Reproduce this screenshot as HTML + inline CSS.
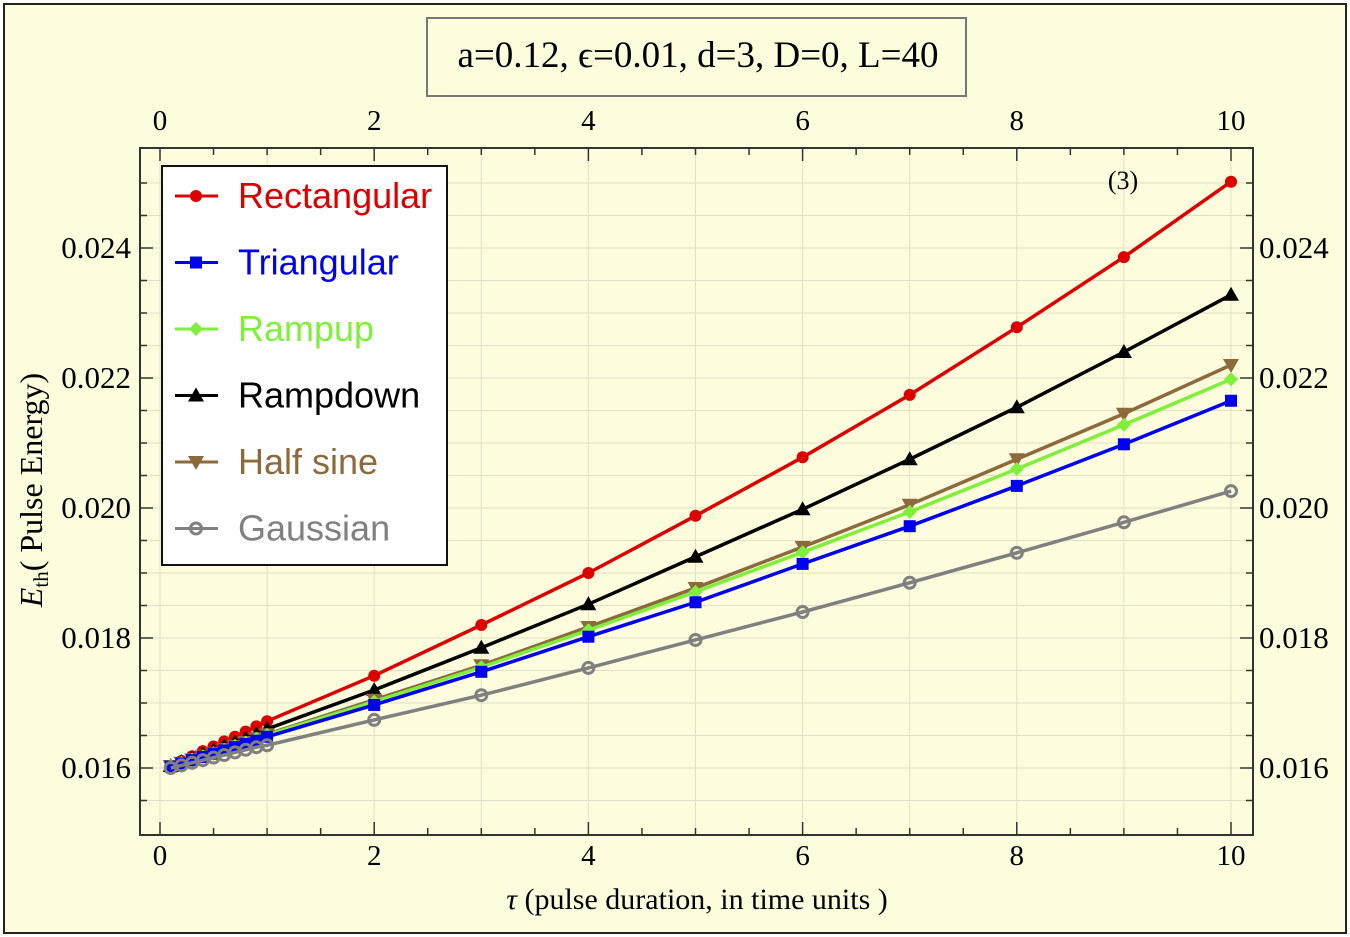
<!DOCTYPE html>
<html><head><meta charset="utf-8"><style>
html,body{margin:0;padding:0;background:#fff}
svg{display:block}
text{font-family:"Liberation Serif",serif}
</style></head><body>
<svg id="chart" width="1350" height="937" viewBox="0 0 1350 937" xmlns="http://www.w3.org/2000/svg">
<rect x="4" y="4" width="1342" height="929" fill="#fdfcdc" stroke="#222" stroke-width="2"/>
<g>
<rect x="427" y="18" width="539" height="78" fill="#fdfcdc" stroke="#777" stroke-width="2"/>
<text x="698" y="67" font-size="37" text-anchor="middle">a=0.12, ϵ=0.01, d=3, D=0, L=40</text>
</g>
<g id="grid"></g>
<g id="axes"></g>
<g id="series"></g>
<text x="1123" y="189" font-size="26" text-anchor="middle">(3)</text>
<text x="697" y="909" font-size="30" text-anchor="middle"><tspan font-style="italic">τ</tspan> (pulse duration, in time units )</text>
<text transform="translate(42,490) rotate(-90)" font-size="32" text-anchor="middle"><tspan font-style="italic">E</tspan><tspan font-size="21" dy="6">th</tspan><tspan dy="-6">( Pulse Energy)</tspan></text>
<g id="legend"></g>
</svg>
<script>
const tau = [0.1,0.2,0.3,0.4,0.5,0.6,0.7,0.8,0.9,1,2,3,4,5,6,7,8,9,10];
const rectangular = [0.01603,0.01611,0.01618,0.01626,0.01633,0.01641,0.01648,0.01656,0.01664,0.01672,0.01742,0.01820,0.01900,0.01988,0.02078,0.02174,0.02278,0.02386,0.02502];
const rampdown = [0.01603,0.01609,0.01615,0.01621,0.01627,0.01633,0.01639,0.01645,0.01652,0.01660,0.01720,0.01785,0.01852,0.01925,0.01998,0.02075,0.02155,0.02240,0.02328];
const halfSine = [0.01603,0.01608,0.01613,0.01618,0.01623,0.01629,0.01634,0.01640,0.01646,0.01652,0.01705,0.01758,0.01817,0.01877,0.01940,0.02005,0.02075,0.02145,0.02220];
const rampup = [0.01603,0.01608,0.01613,0.01618,0.01623,0.01628,0.01634,0.01639,0.01645,0.01651,0.01702,0.01755,0.01812,0.01871,0.01932,0.01994,0.02060,0.02128,0.02198];
const triangular = [0.01602,0.01607,0.01612,0.01617,0.01622,0.01627,0.01632,0.01637,0.01642,0.01648,0.01697,0.01748,0.01802,0.01855,0.01914,0.01972,0.02034,0.02098,0.02165];
const gaussian = [0.01600,0.01604,0.01608,0.01612,0.01616,0.01620,0.01624,0.01628,0.01632,0.01635,0.01674,0.01712,0.01754,0.01797,0.01840,0.01885,0.01931,0.01978,0.02026];
const xTicks = [0,2,4,6,8,10];
const yTicks = [0.016,0.018,0.020,0.022,0.024];
const yTickLabels = ["0.016","0.018","0.020","0.022","0.024"];
const seriesNames = ["Rectangular","Triangular","Rampup","Rampdown","Half sine","Gaussian"];

const NS="http://www.w3.org/2000/svg";
const L=140,R=1253,T=148,B=835;
const xs=v=>160+v*107.1;
const ys=v=>768-(v-0.016)*65000;
function mk(tag,attrs,parent){const e=document.createElementNS(NS,tag);for(const k in attrs)e.setAttribute(k,attrs[k]);parent.appendChild(e);return e;}
const grid=document.getElementById('grid'),axes=document.getElementById('axes'),ser=document.getElementById('series'),leg=document.getElementById('legend');
mk('rect',{x:L,y:T,width:R-L,height:B-T,fill:'#fdfcdc'},grid);
for(let v=0;v<=10;v++){const g=mk('line',{x1:xs(v),x2:xs(v),y1:T,y2:B,stroke:'#e2e0c4','stroke-width':1},grid);

}
for(let v=0.0155;v<=0.0255;v+=0.0005){const y=ys(v);if(y<T||y>B)continue;const g=mk('line',{x1:L,x2:R,y1:y,y2:y,stroke:'#e2e0c4','stroke-width':1},grid);

}
mk('rect',{x:L,y:T,width:R-L,height:B-T,fill:'none',stroke:'#333','stroke-width':2},axes);
for(let v=0;v<=10.001;v+=0.5){const x=xs(v),len=(Math.abs(v-Math.round(v/2)*2)<1e-6)?13:7;
mk('line',{x1:x,x2:x,y1:B,y2:B-len,stroke:'#333','stroke-width':1.5},axes);
mk('line',{x1:x,x2:x,y1:T,y2:T+len,stroke:'#333','stroke-width':1.5},axes);}
for(let v=0.0155;v<=0.0255;v+=0.0005){const y=ys(v);if(y<T||y>B)continue;const maj=Math.abs(v*1000-Math.round(v*500)*2)<1e-6;const len=maj?13:7;
mk('line',{x1:L,x2:L+len,y1:y,y2:y,stroke:'#333','stroke-width':1.5},axes);
mk('line',{x1:R,x2:R-len,y1:y,y2:y,stroke:'#333','stroke-width':1.5},axes);}
xTicks.forEach(v=>{
const b=mk('text',{x:xs(v),y:865,'font-size':29,'text-anchor':'middle'},axes);b.textContent=v;


const t=mk('text',{x:xs(v),y:130,'font-size':29,'text-anchor':'middle'},axes);t.textContent=v;

});
yTicks.forEach((v,i)=>{
const l=mk('text',{x:131,y:ys(v)+10,'font-size':31,'text-anchor':'end'},axes);l.textContent=yTickLabels[i];


const r=mk('text',{x:1259,y:ys(v)+10,'font-size':31},axes);r.textContent=yTickLabels[i];

});
function marker(kind,x,y,c,p){
if(kind==='circle')return mk('circle',{cx:x,cy:y,r:6,fill:c},p);
if(kind==='square')return mk('rect',{x:x-6,y:y-6,width:12,height:12,fill:c},p);
if(kind==='diamond')return mk('polygon',{points:`${x},${y-7} ${x+7},${y} ${x},${y+7} ${x-7},${y}`,fill:c},p);
if(kind==='up')return mk('polygon',{points:`${x},${y-8} ${x+8},${y+6} ${x-8},${y+6}`,fill:c},p);
if(kind==='down')return mk('polygon',{points:`${x},${y+8} ${x+8},${y-6} ${x-8},${y-6}`,fill:c},p);
if(kind==='ring')return mk('circle',{cx:x,cy:y,r:5.5,fill:'none',stroke:c,'stroke-width':3},p);}
const defs=[
{name:seriesNames[0],data:rectangular,c:'#dd0000',m:'circle',slug:'rectangular'},
{name:seriesNames[1],data:triangular,c:'#0000ee',m:'square',slug:'triangular'},
{name:seriesNames[2],data:rampup,c:'#7ff03a',m:'diamond',slug:'rampup'},
{name:seriesNames[3],data:rampdown,c:'#000000',m:'up',slug:'rampdown'},
{name:seriesNames[4],data:halfSine,c:'#8c6a3c',m:'down',slug:'half-sine'},
{name:seriesNames[5],data:gaussian,c:'#808080',m:'ring',slug:'gaussian'}];
const order=[0,3,4,2,1,5];
order.forEach(i=>{const s=defs[i];const g=mk('g',{},ser);


const pts=tau.map((t,k)=>xs(t)+','+ys(s.data[k])).join(' ');
mk('polyline',{points:pts,fill:'none',stroke:s.c,'stroke-width':3.5},g);
tau.forEach((t,k)=>{const m=marker(s.m,xs(t),ys(s.data[k]),s.c,g);

});});
mk('rect',{x:162,y:166,width:285,height:399,fill:'#fff',stroke:'#111','stroke-width':2},leg);
defs.forEach((s,i)=>{const y=196+i*66.5;const g=mk('g',{},leg);


mk('line',{x1:175,x2:218,y1:y,y2:y,stroke:s.c,'stroke-width':3},g);
marker(s.m,196,y,s.c,g);
const t=mk('text',{x:238,y:y+12,'font-size':36,fill:s.c,style:'font-family:"Liberation Sans",sans-serif'},g);
t.textContent=s.name;});
</script>
</body></html>
